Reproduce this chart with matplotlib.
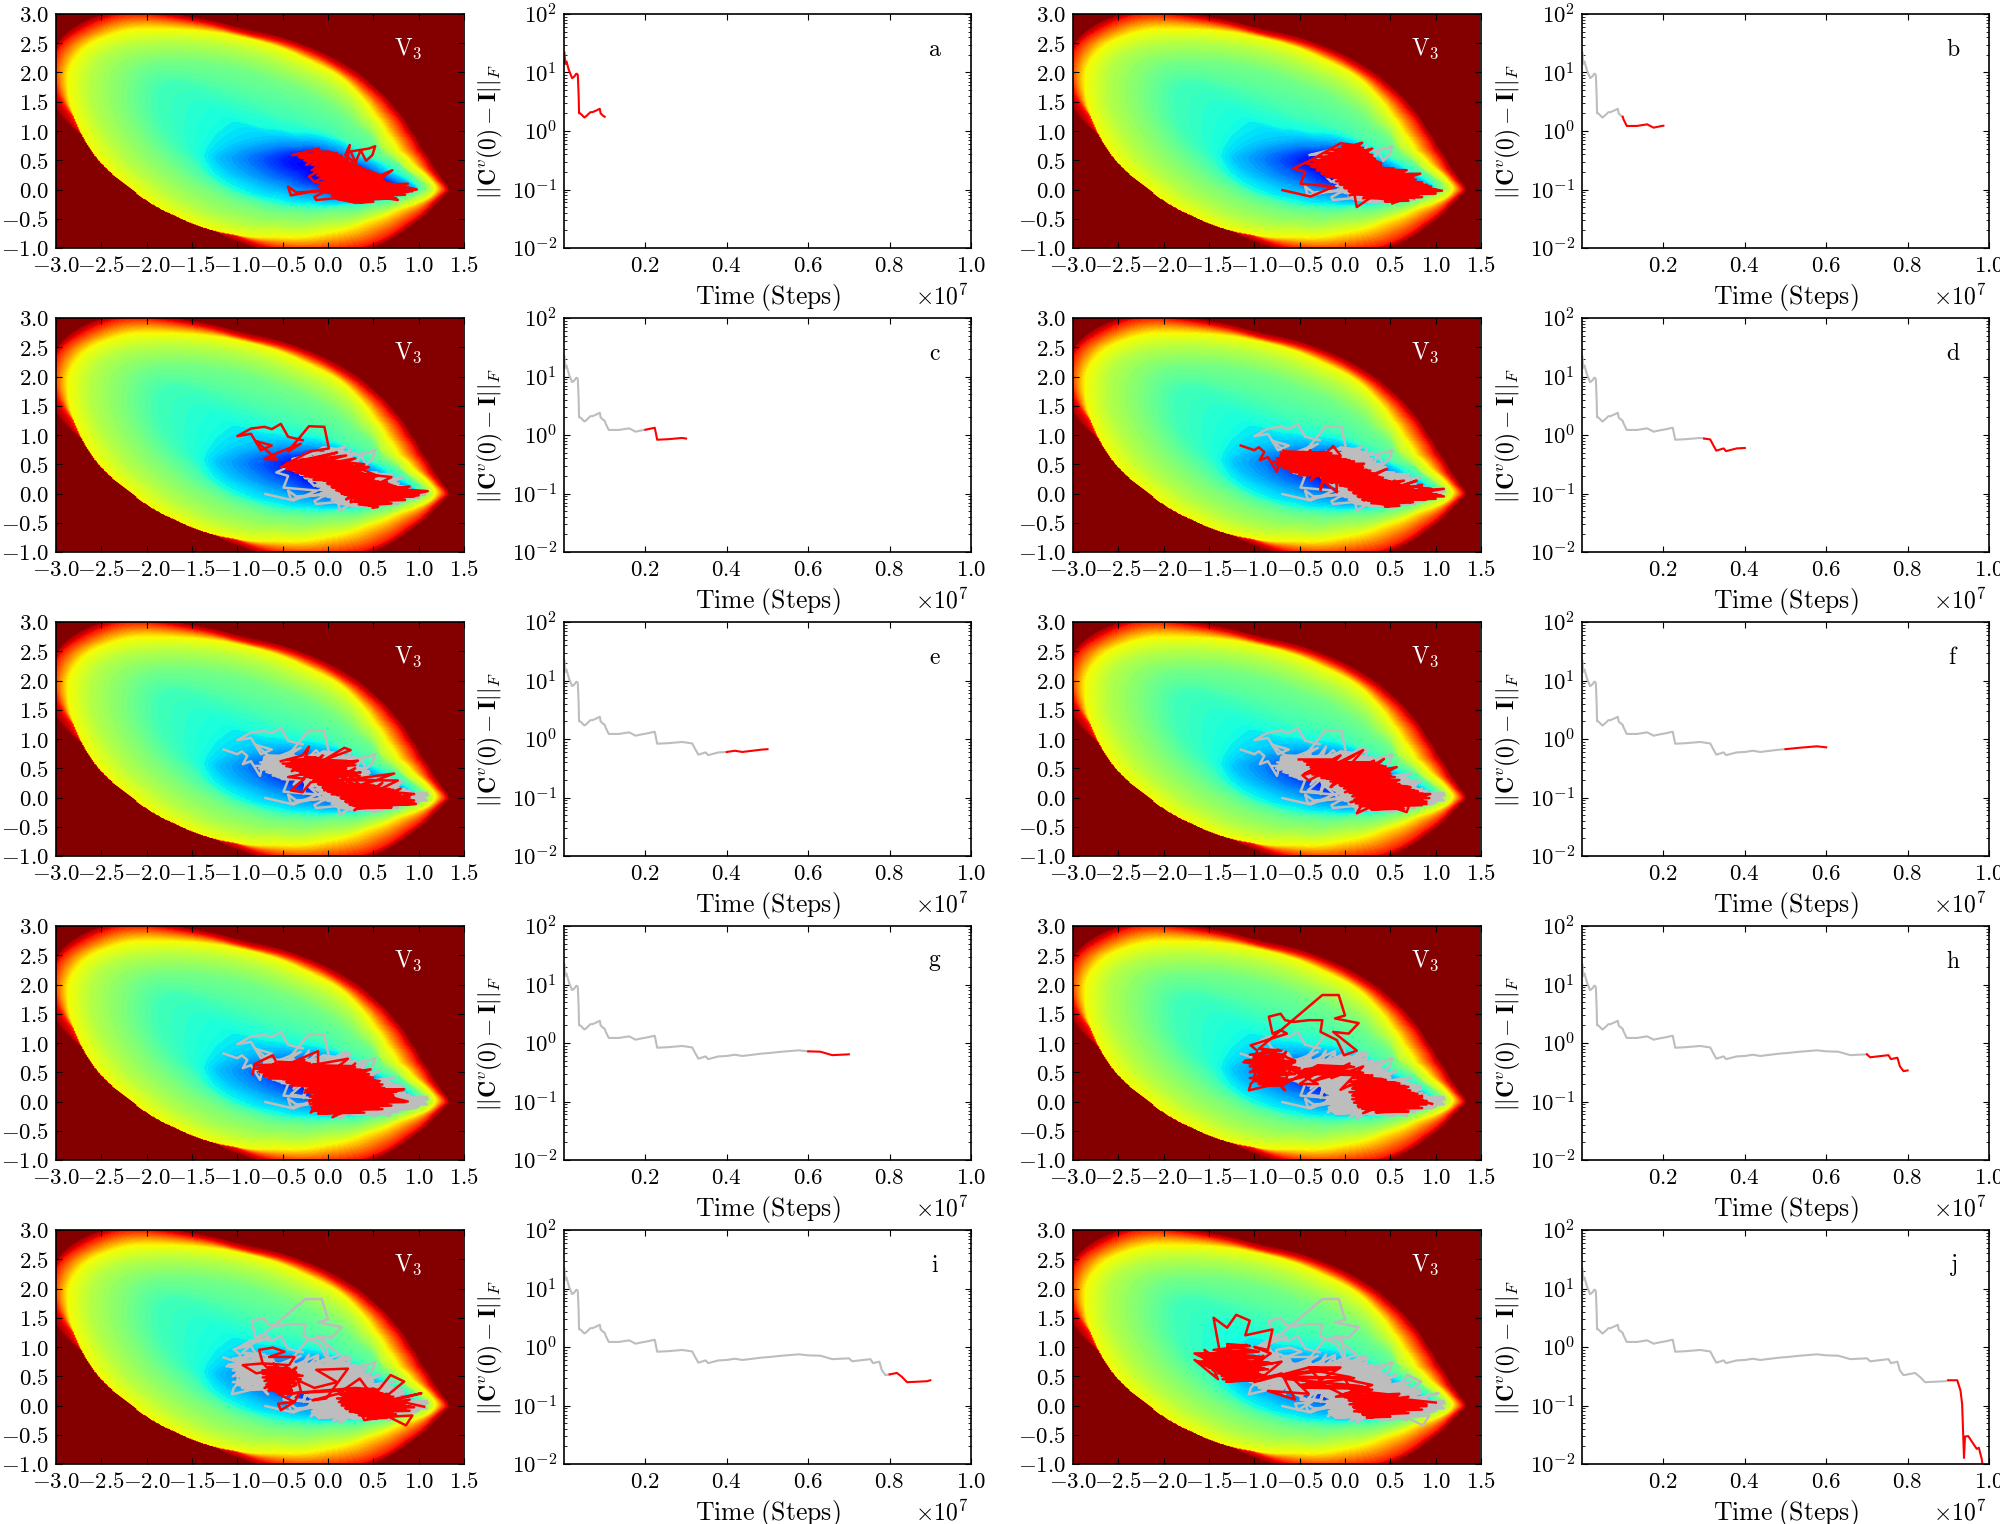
import numpy as np
import matplotlib
matplotlib.use('Agg')
import matplotlib.pyplot as plt

plt.rcParams['mathtext.fontset'] = 'cm'
plt.rcParams['font.family'] = ['DejaVu Serif']
plt.rcParams['font.size'] = 16.5
plt.rcParams['axes.linewidth'] = 1.2
plt.rcParams['xtick.direction'] = 'in'
plt.rcParams['ytick.direction'] = 'in'

# contour outlines of the potential
center = (-0.1, 0.35)
ring_blue = [(-.5,.5),(-.3,.3),(-.05,.15),(.3,.03),(.6,-.02),(.88,0),(.65,.12),(.4,.3),(.15,.45),(-.1,.6),(-.35,.6)]
ring_mid = [(-.95,.52),(-.8,.3),(-.5,.12),(-.2,-.02),(.2,-.1),(.6,-.07),(.9,-.01),(.96,.01),(.8,.12),(.55,.3),(.25,.5),(0,.7),(-.35,.74),(-.7,.7),(-.88,.62)]
ring_light = [(-1.25,.56),(-1.15,.35),(-.85,.12),(-.5,-.05),(-.15,-.17),(.25,-.2),(.65,-.13),(.92,-.04),(1.0,.01),(.9,.12),(.65,.3),(.3,.55),(0,.82),(-.3,.87),(-.7,.87),(-1.05,.75)]
ring_cyan = [(-1.42,.6),(-1.3,.25),(-1,-.03),(-.6,-.2),(-.2,-.27),(.2,-.26),(.6,-.17),(.9,-.07),(1.03,.01),(.95,.12),(.7,.33),(.35,.6),(0,.92),(-.4,1.0),(-.8,1.1),(-1.15,1.3),(-1.35,.95)]
ring_aqua = [(-1.9,1.6),(-1.8,1.0),(-1.5,.5),(-1.2,.1),(-.8,-.15),(-.35,-.28),(.1,-.28),(.5,-.22),(.85,-.1),(1.0,0),(.98,.1),(.8,.32),(.5,.55),(.15,.85),(-.2,1.1),(-.6,1.3),(-1.1,1.6),(-1.6,1.85),(-1.85,1.8)]
ring_mint = [(-2.15,2.0),(-2.2,1.5),(-2.05,1.0),(-1.7,.4),(-1.3,0),(-.85,-.28),(-.4,-.4),(.05,-.38),(.5,-.3),(.85,-.15),(1.05,-.03),(1.08,.05),(.9,.3),(.6,.6),(.3,1.1),(0,1.45),(-.5,1.8),(-1.1,2.1),(-1.65,2.2),(-2.0,2.15)]
ring_lime = [(-2.6,2.1),(-2.62,1.5),(-2.4,.85),(-1.95,.15),(-1.55,-.25),(-1.05,-.55),(-.55,-.63),(0,-.58),(.5,-.42),(.85,-.22),(1.12,-.04),(1.15,.02),(.85,.36),(.58,.75),(.38,1.25),(.1,1.7),(-.35,2.05),(-1.0,2.4),(-1.65,2.52),(-2.15,2.48),(-2.45,2.35)]
ring_yellow = [(-2.87,2.1),(-2.86,1.53),(-2.73,.96),(-2.2,.04),(-1.67,-.47),(-1.12,-.76),(-.57,-.82),(-.02,-.76),(.44,-.55),(.8,-.33),(1.14,-.13),(1.21,.02),(1.12,.2),(.95,.42),(.78,.68),(.65,.98),(.52,1.28),(.35,1.62),(.1,1.98),(-.2,2.21),(-.93,2.61),(-1.67,2.75),(-2.22,2.75),(-2.66,2.5)]
ring_red = [(-3.05,2.0),(-2.95,2.5),(-2.72,2.72),(-2.47,2.92),(-2.2,3.02),(-1.67,2.92),(-.93,2.66),(-.22,2.36),(.13,2.08),(.45,1.72),(.67,1.37),(.84,1.0),(.97,.68),(1.11,.35),(1.25,.09),(1.33,.02),(1.29,-.03),(1.16,-.2),(.86,-.58),(.42,-.96),(.1,-1.03),(-.33,-1.05),(-.9,-.86),(-1.42,-.41),(-1.95,.2),(-2.5,.83),(-2.9,1.4)]
ring_dark = [(-3.1,2.0),(-3.0,2.52),(-2.8,2.8),(-2.53,3.0),(-2.2,3.1),(-1.67,3.0),(-.93,2.75),(-.2,2.44),(.17,2.16),(.5,1.78),(.73,1.42),(.9,1.05),(1.03,.72),(1.17,.38),(1.3,.1),(1.37,.02),(1.33,-.04),(1.21,-.22),(.92,-.62),(.5,-1.0),(.1,-1.12),(-.3,-1.15),(-.75,-1.03),(-.93,-.93),(-1.49,-.47),(-2.04,.14),(-2.6,.78),(-3.0,1.35)]
rings = [ring_blue, ring_mid, ring_light, ring_cyan, ring_aqua, ring_mint, ring_lime, ring_yellow, ring_red, ring_dark]
ring_levels = [.15, .26, .32, .38, .43, .49, .57, .65, .88, .97]

# sampling paths, one per 1e6 steps
path_a = [(-.39,.59),(-.10,.70),(-.24,.42),(0,.65),(-.15,.48),(.10,.62),(-.25,.55),(.05,.45),(-.12,.62),(.2,.52),(-.18,.33),(.15,.58),(-.21,.22),(-.15,.13),(.25,.45),(-.05,.20),(.36,.38),(-.02,.05),(.4,.3),(0,.3),(.45,.15),(.02,-.05),(.5,.25),(.05,.12),(.6,.1),(.08,-.1),(.55,.18),(.1,.25),(.7,.05),(.15,-.15),(.62,.22),(.2,.1),(.75,-.05),(.12,.35),(.8,.02),(.25,-.18),(.71,.33),(.3,.05),(.88,.10),(.35,-.13),(.98,0),(.4,.2),(.88,-.04),(.45,-.1),(.77,-.18),(.5,.05),(.44,-.13),(.31,-.23),(.07,-.15),(-.13,-.18),(-.15,-.13),(.03,.02),(-.41,-.10),(-.44,.05),(-.35,-.05),(0,-.02),(.1,.15),(.2,.35),(.24,.76),(.19,.59),(.3,.45),(.36,.67),(.42,.49),(.49,.59),(.52,.74),(.45,.7),(.25,.65),(.35,.3),(.62,.22)]
path_b = [(-.69,-.01),(-.38,-.12),(-.12,.05),(-.49,.10),(-.44,.30),(-.57,.36),(-.38,.50),(-.05,.79),(.10,.76),(.19,.80),(-.3,.32),(.25,.62),(-.35,.42),(.3,.7),(-.2,.25),(.35,.45),(-.25,.55),(.15,.2),(-.1,.6),(.45,.35),(-.15,.35),(.54,.36),(0,.1),(.3,.55),(.05,.35),(.68,.33),(.1,0),(.5,.2),(.05,-.1),(.83,.27),(.2,.25),(.7,.02),(.2,-.15),(.75,.2),(.3,-.05),(.9,.08),(.35,.15),(1.07,-.02),(.4,-.1),(.85,.12),(.45,.05),(.76,-.15),(.5,.2),(.95,.02),(.52,-.24),(.6,.1),(.65,-.1),(.3,-.12),(.13,-.3),(.1,-.05),(-.05,.15),(.25,.3),(-.1,.45),(.2,.5),(0,.7),(.4,.45),(.15,.4)]
path_c = [(-.28,.91),(-.44,.97),(-.52,1.19),(-.62,1.1),(-.70,1.14),(-.85,1.11),(-1.0,.98),(-.85,1.02),(-.74,.74),(-.62,.82),(-.8,.9),(-.56,.58),(-.70,.59),(-.55,.7),(-.3,.85),(-.44,.72),(-.21,1.15),(-.04,1.14),(.01,.77),(-.2,.72),(-.52,.45),(.1,.7),(-.35,.55),(.2,.65),(-.4,.4),(.3,.6),(-.25,.3),(.4,.5),(-.2,.6),(0,.25),(.45,.45),(.05,.5),(.1,.15),(.55,.3),(.15,.55),(.15,0),(.65,.2),(.2,-.1),(.7,.28),(.3,.35),(.25,-.15),(.8,.1),(.35,.2),(.35,-.18),(.9,.12),(.4,.05),(.5,-.15),(1.1,.04),(.55,.1),(.65,-.1),(.95,0),(.6,.2),(.75,-.08),(1.0,-.03),(.7,.1),(.45,-.1),(.3,.1),(.1,.3),(.25,.45),(.5,.25)]
path_d = [(-1.15,.82),(-1.0,.74),(-.95,.79),(-.89,.71),(-.94,.57),(-.85,.62),(-.75,.37),(-.7,.7),(-.6,.4),(-.68,.74),(-.5,.5),(-.38,.74),(-.55,.45),(-.3,.68),(-.45,.35),(-.13,.81),(-.05,.65),(-.38,.22),(-.2,.6),(-.27,.06),(-.24,.22),(-.09,.02),(-.1,.5),(.21,.51),(-.05,.25),(.15,.35),(.05,.1),(.46,.42),(.1,.2),(.35,.3),(.2,0),(.65,.22),(.25,.15),(.45,-.1),(.55,.22),(.21,-.12),(.79,.22),(.35,0),(.46,-.2),(.7,.15),(.4,.1),(.72,-.15),(.85,.15),(.5,.02),(1.09,.08),(.6,-.05),(1.09,-.05),(.65,.1),(.9,-.1),(.55,-.12),(.95,.08),(.3,.2),(0,.4),(-.25,.42),(.1,.55),(-.35,.55)]
path_e = [(-.52,.62),(-.28,.72),(-.21,.87),(-.25,.68),(-.4,.45),(-.1,.63),(-.06,.72),(-.3,.4),(.18,.85),(.25,.81),(-.2,.55),(.33,.63),(-.1,.3),(.36,.43),(-.19,.26),(-.28,.09),(-.41,.12),(-.26,.32),(-.44,.35),(-.1,.45),(.2,.6),(0,.12),(.3,.5),(.05,.3),(.5,.3),(.1,.05),(.73,.41),(.2,.3),(.77,.29),(.24,-.11),(.6,.25),(.29,-.22),(.65,.1),(.3,.15),(.95,.06),(.4,-.1),(.8,.15),(.45,-.15),(.97,-.11),(.5,.1),(.66,-.17),(.85,0),(.35,.05),(.15,.4),(-.04,.12),(.1,.55),(.4,.15),(.55,0)]
path_f = [(-.51,.65),(-.16,.65),(-.45,.4),(-.05,.72),(-.27,.38),(.1,.72),(-.4,.29),(-.47,.38),(-.2,.5),(.2,.81),(-.16,.18),(.24,.58),(0,.4),(.32,.63),(.1,.2),(.43,.66),(.15,.4),(.57,.52),(0,.09),(.5,.35),(.17,.12),(.6,.3),(.1,.3),(.72,.18),(.06,-.08),(.65,.1),(.13,-.27),(.25,.05),(.94,.06),(.28,-.19),(.8,.1),(.35,0),(.9,-.11),(.4,-.1),(.68,-.25),(.75,.05),(.54,-.19),(.5,.05),(.85,-.05),(.45,.2),(.2,.5),(-.1,.55),(.3,.4)]
path_g = [(-.83,.47),(-.81,.64),(-.61,.79),(-.57,.67),(-.7,.53),(-.48,.47),(-.26,.71),(-.5,.6),(-.11,.86),(-.11,.64),(-.45,.55),(.22,.73),(-.26,.15),(.47,.55),(-.2,.4),(.57,.35),(-.21,0),(.4,.5),(-.19,-.19),(.1,.6),(-.1,.1),(.3,.65),(-.05,0),(.66,.21),(.05,-.27),(.5,.3),(0,.2),(.84,.21),(.1,-.1),(.6,.15),(.29,-.16),(.73,.07),(.1,.3),(.88,0),(.2,.1),(.55,-.13),(.35,.1),(.6,.05),(.25,-.1),(.15,.4),(-.35,.55),(-.1,.45),(.2,.25),(-.15,.3),(.3,.45),(.4,.1)]
path_h = [(.96,-.04),(.3,.2),(.8,.05),(.15,-.1),(.7,.1),(.2,-.2),(.6,.18),(.13,.1),(.55,-.15),(.3,.25),(.75,-.05),(.35,-.15),(.85,.1),(.45,-.05),(.45,.3),(.65,.2),(.25,.05),(.55,.3),(.1,.3),(.3,.45),(-.05,.2),(.2,.6),(-.15,.4),(.05,.65),(-.35,.35),(0,.5),(-.45,.55),(-.2,.6),(-.5,.3),(-.3,.3),(-.6,.55),(-.7,.25),(-.66,.19),(-.82,.47),(-.9,.25),(-1.06,.19),(-1.04,.3),(-.85,.6),(-1.05,.5),(-.7,.8),(-1.12,.67),(-.6,.6),(-.9,.9),(-.55,.7),(-.8,.35),(-.65,.85),(-1.0,.4),(-.97,.87),(-1.04,.96),(-.86,1.05),(-.64,1.16),(-.71,1.22),(-.8,1.16),(-.84,1.45),(-.71,1.5),(-.66,1.39),(-.57,1.36),(-.4,1.39),(-.25,1.39),(-.27,1.19),(-.09,1.05),(-.01,.79),(.13,.87),(-.13,1.19),(.04,1.16),(.15,1.34),(-.11,1.42),(0,1.47),(-.07,1.82),(-.25,1.82)]
path_i = [(1.06,-.02),(.7,.1),(1.03,.21),(.5,0),(.9,.1),(.4,-.15),(.84,.41),(.69,.52),(.55,.25),(.35,.05),(.86,-.34),(.93,-.17),(.6,-.2),(.4,-.25),(.3,.1),(.8,.05),(.2,.2),(.7,-.1),(.15,.05),(.65,.2),(.25,-.1),(.55,-.1),(.12,.2),(.45,.25),(.35,.46),(.11,.2),(-.17,.09),(-.02,.12),(.22,.63),(-.13,.61),(.1,.4),(-.15,.3),(-.33,.43),(-.3,.25),(-.37,.06),(-.52,-.08),(-.55,.03),(-.37,.06),(-.55,.2),(-.35,.65),(-.7,.3),(-.37,.45),(-.72,.6),(-.4,.25),(-.6,.72),(-.35,.35),(-.65,.25),(-.45,.65),(-.79,.55),(-.94,.69),(-.72,.72),(-.43,.69),(-.37,.83),(-.65,.83),(-.48,.92),(-.61,.99),(-.76,.95),(-.72,.72),(-.5,.4),(-.6,.5)]
path_j = [(1.0,.05),(.4,.15),(.85,0),(.2,.05),(.7,.15),(.1,-.1),(.6,-.1),(.25,.2),(.5,-.15),(.1,.2),(.9,.02),(.3,-.2),(.6,.2),(-.1,.15),(.3,.35),(0,.45),(.15,.05),(-.3,.4),(-.05,.65),(-.4,.65),(-.2,.3),(-.6,.5),(-.4,.2),(-.85,.25),(-.55,.1),(-.7,.55),(-1.0,.4),(-.9,.85),(-1.3,.5),(-1.66,.78),(-1.4,.45),(-1.55,.95),(-1.2,.55),(-1.3,1.0),(-1.0,.55),(-1.45,.75),(-1.1,.9),(-1.66,.89),(-1.35,.65),(-1.45,1.5),(-1.3,1.33),(-1.2,1.55),(-1.05,1.45),(-1.1,1.2),(-.8,1.3),(-.85,.95),(-1.0,1.0),(-.82,.89),(-1.05,.65),(-.7,.75),(-.9,.5),(-1.2,.7)]
paths = [path_a, path_b, path_c, path_d, path_e, path_f, path_g, path_h, path_i, path_j]

# dense part of each path, as rows (y, left x, right x)
dense_a = [(.66,-.15,.05),(.60,-.36,.15),(.54,-.3,.18),(.48,-.2,.25),(.42,-.18,.35),(.36,-.15,.4),(.30,-.15,.42),(.24,-.12,.55),(.18,-.08,.62),(.12,-.12,.7),(.06,-.1,.85),(0,-.08,.93),(-.06,0,.85),(-.12,.08,.75),(-.18,.3,.5)]
dense_b = [(.74,-.03,.2),(.68,-.15,.25),(.62,-.22,.3),(.56,-.3,.33),(.5,-.38,.35),(.44,-.42,.4),(.38,-.35,.5),(.32,-.3,.65),(.26,-.25,.72),(.2,-.12,.78),(.14,-.1,.85),(.08,-.05,.95),(.02,0,1.03),(-.04,.05,1.0),(-.1,.2,.85),(-.16,.4,.7)]
dense_c = [(.58,-.3,0),(.52,-.45,.15),(.46,-.5,.3),(.4,-.4,.35),(.34,-.3,.42),(.28,-.2,.5),(.22,-.05,.6),(.16,0,.7),(.1,.05,.85),(.04,.12,1.0),(-.02,.18,.95),(-.08,.25,.85),(-.14,.3,.7),(-.2,.45,.55)]
dense_d = [(.72,-.65,-.15),(.66,-.7,-.05),(.6,-.75,.05),(.54,-.8,.1),(.48,-.72,.2),(.42,-.65,.28),(.36,-.55,.35),(.3,-.3,.42),(.24,-.25,.5),(.18,-.1,.6),(.12,0,.75),(.06,.05,.95),(0,.1,1.05),(-.06,.15,1.0),(-.12,.25,.75),(-.18,.4,.6)]
dense_e = [(.7,-.25,-.1),(.64,-.45,.25),(.58,-.5,.3),(.52,-.42,.2),(.46,-.35,.3),(.4,-.3,.35),(.34,-.2,.05),(.28,-.15,.2),(.22,-.1,.55),(.16,-.05,.72),(.1,0,.8),(.04,.1,.9),(-.02,.15,.95),(-.08,.2,.95),(-.14,.28,.7)]
dense_f = [(.62,-.45,.35),(.56,-.42,.45),(.5,-.35,.5),(.44,-.4,.5),(.38,-.3,.55),(.32,-.2,.5),(.26,-.1,.6),(.2,-.05,.72),(.14,.05,.8),(.08,.05,.9),(.02,.08,.93),(-.04,.1,.9),(-.1,.12,.85),(-.16,.25,.65)]
dense_g = [(.68,-.55,-.2),(.62,-.8,.3),(.56,-.8,.4),(.5,-.75,.45),(.44,-.7,.5),(.38,-.5,.55),(.32,-.45,.6),(.26,-.25,.62),(.2,-.25,.75),(.14,-.2,.72),(.08,-.2,.72),(.02,-.2,.85),(-.04,-.2,.7),(-.1,-.18,.6),(-.16,-.15,.4)]
dense_h = [(.9,-.95,-.7),(.8,-1.05,-.65),(.7,-1.1,-.55),(.6,-1.05,-.5),(.5,-1.0,-.55),(.4,-1.05,-.6),(.3,-.95,-.7),(.62,-.3,.1),(.52,-.55,.2),(.46,.1,.3),(.4,.1,.45),(.34,.05,.6),(.28,.05,.7),(.22,.08,.72),(.16,.05,.8),(.1,.08,.85),(.04,.08,.9),(-.02,.1,.9),(-.08,.15,.85),(-.14,.3,.7)]
dense_i = [(.66,-.65,-.42),(.6,-.72,-.35),(.54,-.72,-.28),(.48,-.72,-.3),(.42,-.7,-.35),(.36,-.68,-.38),(.3,-.65,-.4),(.24,-.58,-.4),(.3,.3,.55),(.24,.22,.6),(.18,.15,.72),(.12,.1,.78),(.06,.12,.85),(0,.15,.95),(-.06,.2,.9),(-.12,.3,.75),(-.18,.4,.65)]
dense_j = [(1.05,-1.3,-1.05),(.95,-1.45,-.95),(.85,-1.6,-.9),(.75,-1.62,-.8),(.65,-1.5,-.85),(.55,-1.4,-.9),(.45,-1.35,-.95),(.65,-.4,-.1),(.5,-.7,.1),(.35,-.5,.2),(.3,.05,.3),(.2,0,.55),(.14,0,.65),(.08,.05,.85),(.02,.05,.9),(-.04,.1,.85),(-.1,.15,.7),(-.16,.2,.5)]
denses = [dense_a, dense_b, dense_c, dense_d, dense_e, dense_f, dense_g, dense_h, dense_i, dense_j]

# convergence curve, x in units of 1e7 steps
conv_x = [.001,.003,.006,.009,.012,.02,.025,.03,.032,.034,.036,.037,.04,.045,.05,.055,.06,.065,.07,.08,.088,.09,.095,.1,.102,.11,.135,.16,.176,.196,.2,.223,.229,.258,.29,.3,.315,.323,.33,.348,.354,.38,.4,.42,.438,.487,.5,.536,.577,.6,.63,.659,.7,.708,.753,.759,.775,.781,.79,.8,.818,.83,.843,.892,.9,.922,.93,.934,.9386,.941,.949,.961,.97,.975,.982,.984,1.0]
conv_y = [22,14,15.5,13,11,8,8.5,9.5,9.5,9,4,2.0,2.0,1.85,1.7,1.8,1.95,2.1,2.1,2.25,2.4,2.0,1.85,1.75,1.58,1.22,1.22,1.3,1.14,1.22,1.23,1.33,.83,.85,.89,.87,.84,.66,.54,.59,.53,.59,.6,.63,.6,.66,.67,.71,.75,.72,.71,.62,.64,.57,.62,.53,.56,.4,.33,.34,.36,.31,.25,.26,.27,.27,.18,.105,.0127,.0295,.03,.0224,.0181,.019,.0123,.01,.006]

panel_letters = ['a', 'b', 'c', 'd', 'e', 'f', 'g', 'h', 'i', 'j']
map_xticks = [-3.0, -2.5, -2.0, -1.5, -1.0, -0.5, 0.0, 0.5, 1.0, 1.5]
map_yticks = [-1.0, -0.5, 0.0, 0.5, 1.0, 1.5, 2.0, 2.5, 3.0]
conv_xticks = [0.2, 0.4, 0.6, 0.8, 1.0]
conv_yticks = [1e-2, 1e-1, 1e0, 1e1, 1e2]
conv_ylabels = ['$10^{-2}$', '$10^{-1}$', '$10^{0}$', '$10^{1}$', '$10^{2}$']


def build_field():
    # interpolate the read contours in polar form around the basin,
    # rounding the corners between the read points a little
    gx = np.linspace(-3.0, 1.48, 340)
    gy = np.linspace(-1.0, 3.0, 260)
    X, Y = np.meshgrid(gx, gy)
    th = np.arctan2(Y - center[1], X - center[0])
    rr = np.hypot(X - center[0], Y - center[1])
    angles = np.linspace(-np.pi, np.pi, 1440, endpoint=False)
    kernel = np.ones(25) / 25.
    radii = []
    for ring in rings:
        pts = np.array(ring)
        t = np.arctan2(pts[:, 1] - center[1], pts[:, 0] - center[0])
        r = np.hypot(pts[:, 0] - center[0], pts[:, 1] - center[1])
        o = np.argsort(t)
        ra = np.interp(angles, t[o], r[o], period=2*np.pi)
        ra = np.convolve(np.r_[ra[-12:], ra, ra[:12]], kernel, mode='valid')
        radii.append(np.interp(th.ravel(), angles, ra, period=2*np.pi))
    radii = np.maximum.accumulate(np.array(radii), axis=0)
    Z = np.zeros(rr.size)
    rflat = rr.ravel()
    for k in range(rflat.size):
        Z[k] = np.interp(rflat[k], np.r_[0, radii[:, k]], np.r_[0.10, ring_levels], right=1.0)
    return X, Y, Z.reshape(X.shape)


def full_path(i):
    # outline of the walk, then back and forth over its dense rows, down and up
    pts = list(paths[i])
    for y, xl, xr in denses[i]:
        pts.append((xl, y))
        pts.append((xr, y - .03))
    for y, xl, xr in denses[i][::-1]:
        pts.append((xl + .04, y - .045))
        pts.append((xr - .04, y - .015))
    return np.array(pts)


def pixel_axes(fig, left, top, right, bottom):
    W, H = 2000., 1524.
    return fig.add_axes([left/W, 1 - bottom/H, (right-left)/W, (bottom-top)/H])


def math_label(v):
    return '$%.1f$' % v


X, Y, Z = build_field()
levels = np.linspace(0.08, 1.0, 72)

fig = plt.figure(figsize=(20, 15.24), dpi=100)
col_lefts = [(56, 564), (1073, 1582)]
for i in range(10):
    row = i // 2
    col = i % 2
    top = 14 + 304*row
    bottom = top + 234
    ax = pixel_axes(fig, col_lefts[col][0], top, col_lefts[col][0] + 408, bottom)
    ax.contourf(X, Y, Z, levels=levels, cmap='jet', vmin=0, vmax=1, extend='max')
    for j in range(i):
        a = full_path(j)
        ax.plot(a[:, 0], a[:, 1], color='#bdbdbd', lw=1.8)
    a = full_path(i)
    ax.plot(a[:, 0], a[:, 1], color='#ff0000', lw=1.8)
    ax.set_xlim(-3, 1.5)
    ax.set_ylim(-1, 3)
    ax.set_xticks(map_xticks)
    ax.set_xticklabels([math_label(v) for v in map_xticks])
    ax.set_yticks(map_yticks)
    ax.set_yticklabels([math_label(v) for v in map_yticks])
    ax.tick_params(top=True, right=True, length=4, width=0.8, pad=5)
    ax.text(0.864, 0.853, r'$\mathrm{V}_3$', color='white', transform=ax.transAxes,
            ha='center', va='center', fontsize=17)

    ax2 = pixel_axes(fig, col_lefts[col][1], top, col_lefts[col][1] + 407, bottom)
    cx = np.array(conv_x)
    cy = np.array(conv_y)
    lo = i / 10.
    hi = (i + 1) / 10.
    if i > 0:
        old = cx <= lo + 1e-9
        ax2.plot(cx[old], cy[old], color='#bdbdbd', lw=1.5)
    cur = (cx >= lo - 1e-9) & (cx <= hi + 1e-9)
    ax2.plot(cx[cur], cy[cur], color='#ff0000', lw=1.5)
    ax2.set_yscale('log')
    ax2.set_xlim(0, 1)
    ax2.set_ylim(1e-2, 1e2)
    ax2.set_xticks(conv_xticks)
    ax2.set_xticklabels([math_label(v) for v in conv_xticks])
    ax2.set_yticks(conv_yticks)
    ax2.set_yticklabels(conv_ylabels)
    ax2.tick_params(which='major', top=True, right=True, length=4, width=0.8, pad=5)
    ax2.tick_params(which='minor', left=True, right=True, length=2, width=0.6)
    ax2.yaxis.set_minor_locator(matplotlib.ticker.LogLocator(base=10, subs=np.arange(2, 10), numticks=20))
    ax2.yaxis.set_minor_formatter(matplotlib.ticker.NullFormatter())
    ax2.text(0.912, 0.85, r'$\mathrm{%s}$' % panel_letters[i], transform=ax2.transAxes,
             ha='center', va='center', fontsize=17)
    ax2.text(0.5, -49.5/234., r'$\mathrm{Time\ (Steps)}$', transform=ax2.transAxes,
             ha='center', va='center', fontsize=18.5)
    ax2.text(0.992, -49/234., r'$\times 10^{7}$', transform=ax2.transAxes,
             ha='right', va='center', fontsize=17)
    ax2.text(-74/407., 0.5, r'$||\mathbf{C}^v(0)-\mathbf{I}||_F$', transform=ax2.transAxes,
             rotation=90, ha='center', va='center', fontsize=17)

fig.savefig('out.png', dpi=100)
